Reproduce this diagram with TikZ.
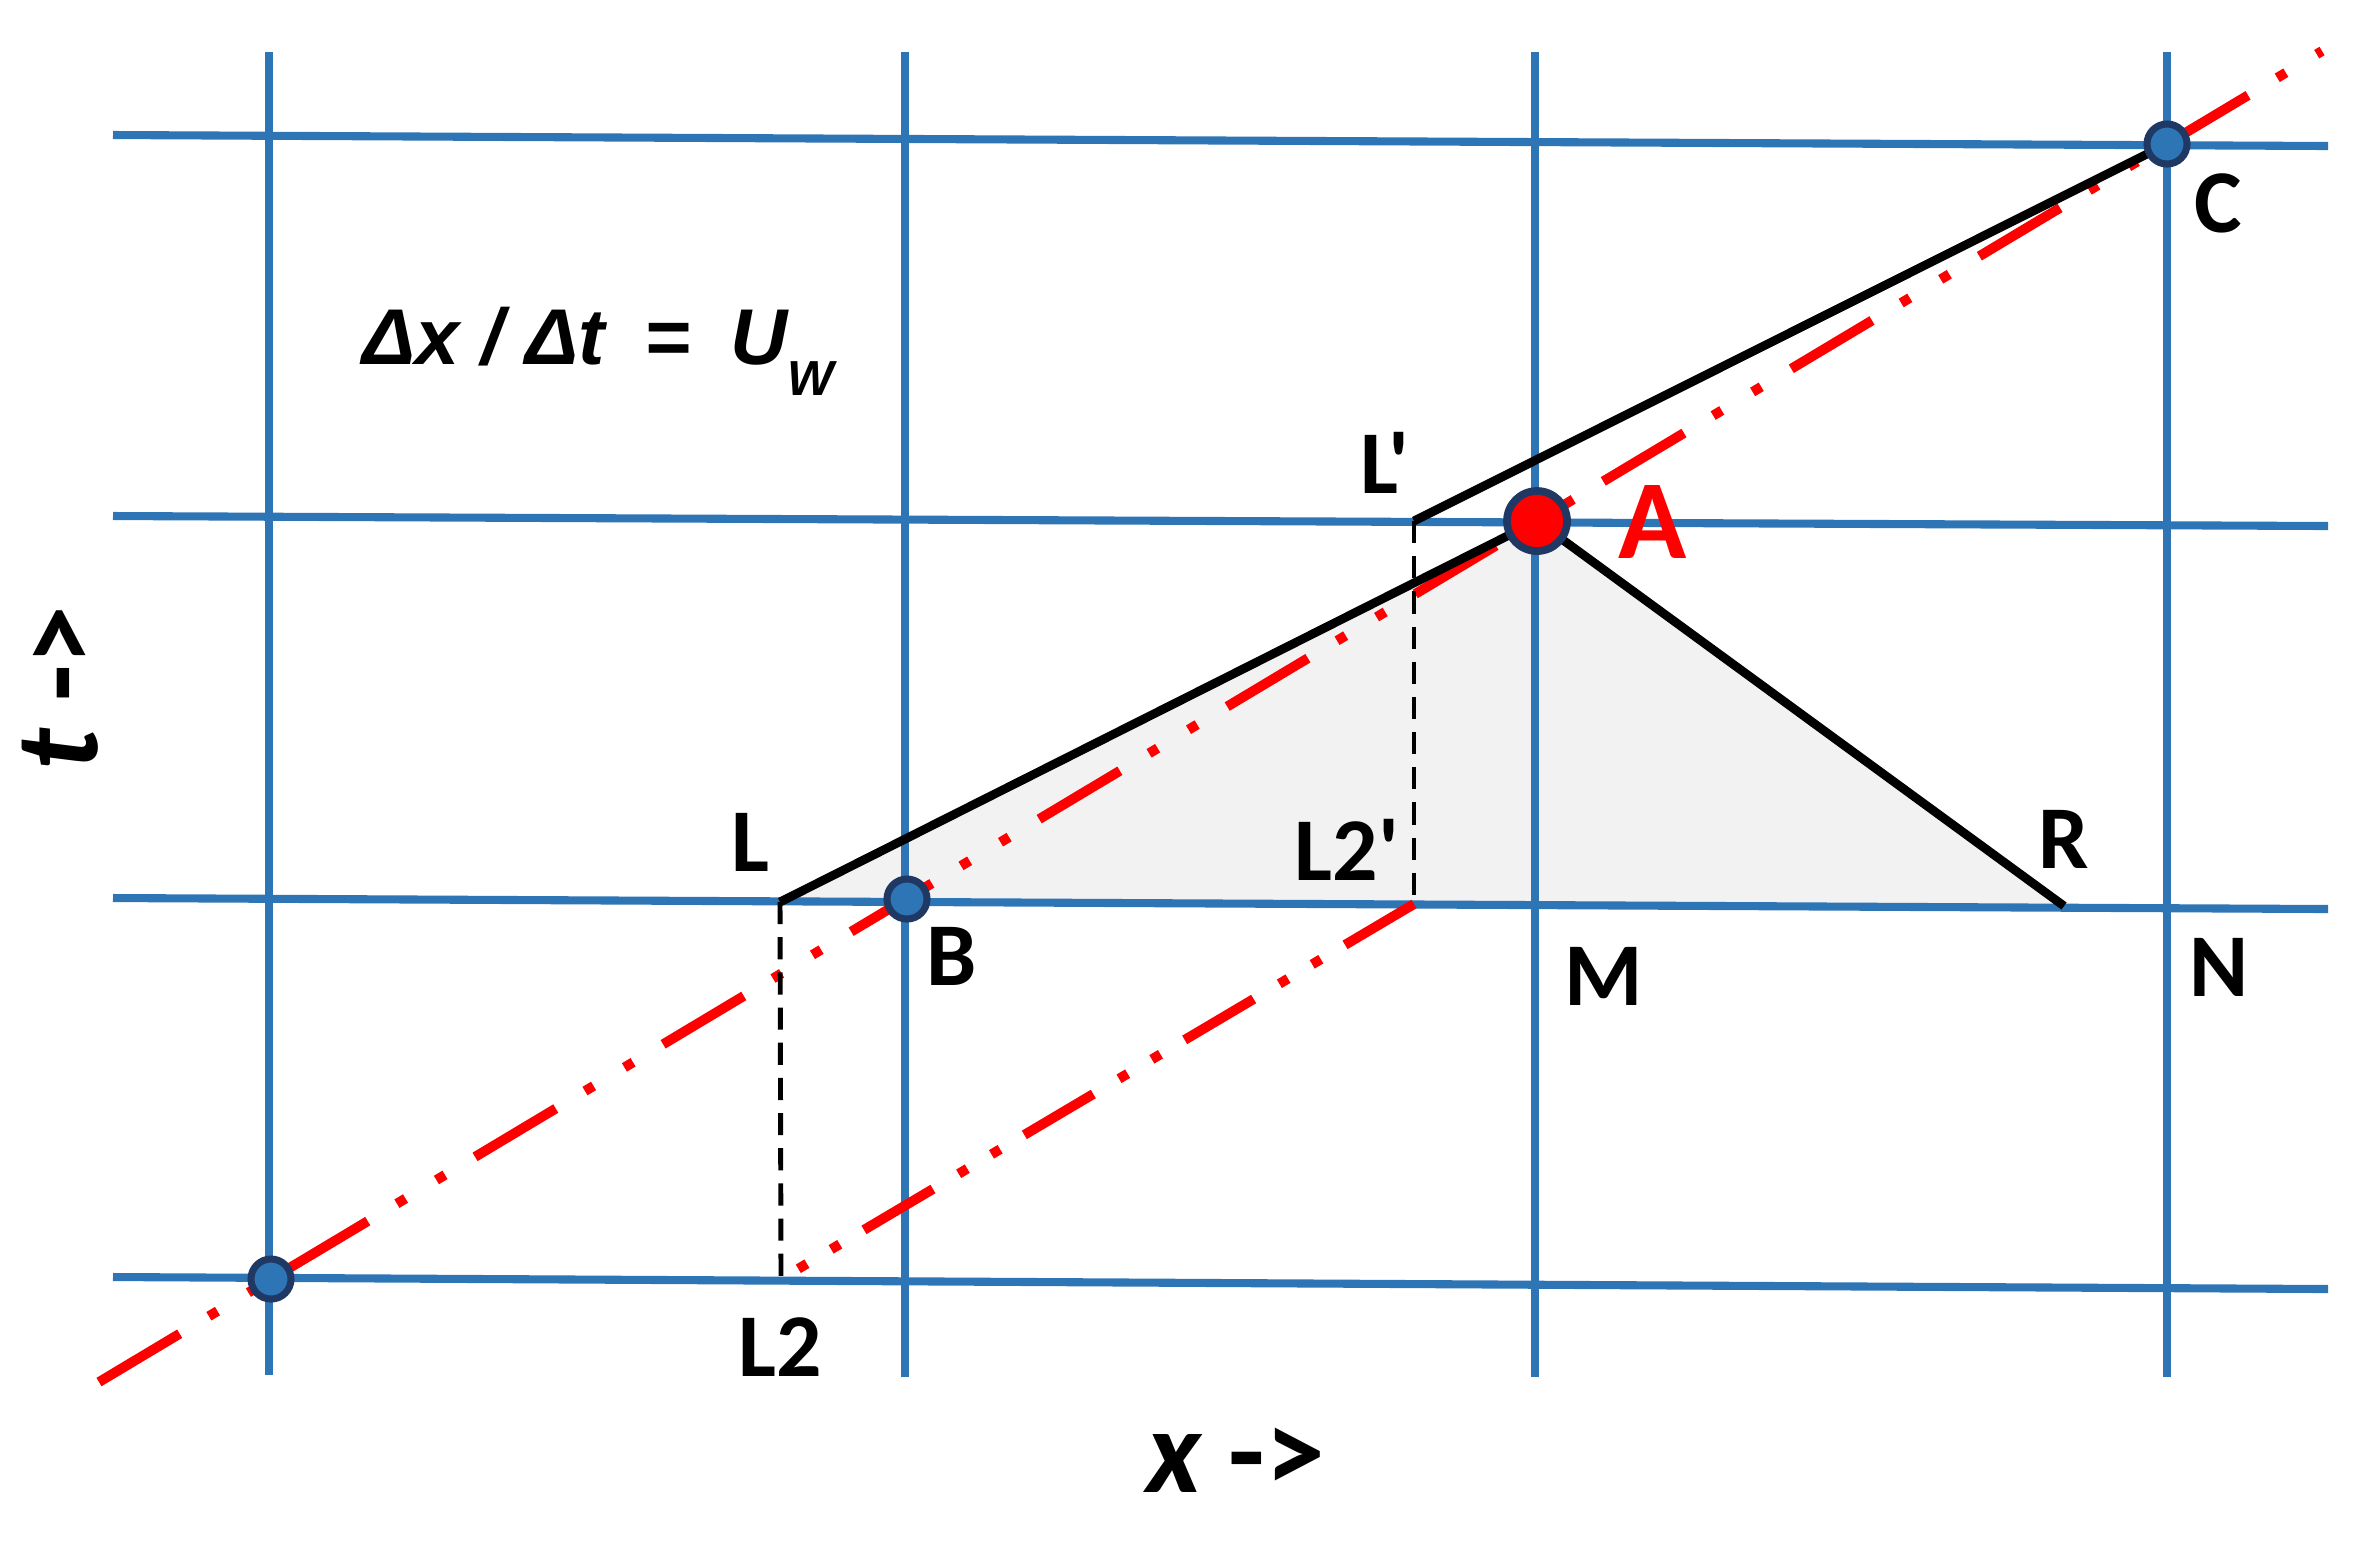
\documentclass[tikz,border=0pt]{standalone}
\usepackage{fontspec}
\setmainfont{Carlito}[Ligatures=TeXOff]
\newfontfamily\arialf{Liberation Sans}[Ligatures=TeXOff]
\definecolor{gridblue}{HTML}{2E75B6}
\definecolor{ringblue}{HTML}{203864}
\definecolor{shadegray}{HTML}{F2F2F2}
\definecolor{wred}{HTML}{FF0000}
\tikzset{
  gridline/.style={gridblue, line width=2.3pt},
  redmain/.style={wred, line width=2.8pt, line cap=butt,
    dash pattern=on 26.75pt off 9.67pt on 2.85pt off 10.24pt on 2.85pt off 9.96pt},
  redsec/.style={wred, line width=2.8pt, line cap=butt,
    dash pattern=on 22.8pt off 8pt on 2.85pt off 8pt on 2.85pt off 8.5pt},
  blackline/.style={black, line width=2.5pt},
  projline/.style={black, line width=1.4pt, dash pattern=on 6.3pt off 3.7pt},
  dot/.style={circle, draw=ringblue, fill=gridblue, line width=2pt, minimum size=0.4cm, inner sep=0pt},
  bigdot/.style={circle, draw=ringblue, fill=wred, line width=2.2pt, minimum size=0.6cm, inner sep=0pt},
  lab/.style={inner sep=0pt, font=\fontsize{25.5}{30}\selectfont\bfseries},
  labA/.style={inner sep=0pt, text=wred, font=\fontsize{32}{38}\selectfont\bfseries},
  axislab/.style={inner sep=0pt, font=\fontsize{34}{40}\selectfont\bfseries},
}
\begin{document}
\begin{tikzpicture}[x=0.01cm, y=-0.01cm]
\useasboundingbox (0,0) rectangle (2380,1544);
% key points
\coordinate (O) at (271,1279);
\coordinate (B) at (907,899);
\coordinate (A) at (1537,521);
\coordinate (C) at (2167,144);
\coordinate (L) at (780,902);
\coordinate (Lp) at (1414,521);
\coordinate (R) at (2064,906);
\coordinate (L2) at (781,1279);
\coordinate (L2p) at (1414,904);
\coordinate (r1s) at (99,1382);
\coordinate (r1e) at (2322,51);
% shaded triangle
\fill[shadegray] (L) -- (A) -- (R) -- cycle;
% grid
\draw[gridline] (113,135) -- (2328,146);
\draw[gridline] (113,516) -- (2328,526);
\draw[gridline] (113,898) -- (2328,909);
\draw[gridline] (113,1277) -- (2328,1289);
\draw[gridline] (269,52) -- (269,1375);
\draw[gridline] (905,52) -- (905,1377);
\draw[gridline] (1535,52) -- (1535,1377);
\draw[gridline] (2167,52) -- (2167,1377);
% red characteristic lines
\draw[redmain] (r1s) -- (r1e);
\draw[redsec] (L2p) -- (L2);
% projections
\draw[projline] (L) -- (L2);
\draw[projline] (Lp) -- (L2p);
% black lines
\draw[blackline] (L) -- (A);
\draw[blackline] (A) -- (R);
\draw[blackline] (Lp) -- (C);
% dots
\node[dot] (dO) at (O) {};
\node[dot] (dB) at (B) {};
\node[dot] (dC) at (C) {};
\node[bigdot] (dA) at (A) {};
% labels
\node[lab] (tL) at (750,842) {L};
\node[lab] (tB) at (952,956) {B};
\node[lab] (tL2p) at (1347,850) {L2'};
\node[lab] (tL2) at (780,1347) {L2};
\node[lab] (tLp) at (1385,463) {L'};
\node[lab] (tR) at (2064,839) {R};
\node[lab] (tM) at (1604,976) {M};
\node[lab] (tN) at (2219,967) {N};
\node[lab] (tC) at (2218,203) {C};
\node[labA] (tA) at (1653,522) {A};
\node[anchor=base west, inner sep=0pt] (formula) at (362,364)
  {\arialf\bfseries\itshape\fontsize{22.5}{27}\selectfont Δx / Δt\hspace{0.5em}=\hspace{0.5em}U\raisebox{-9pt}{\fontsize{14}{16}\selectfont W}};
\node[axislab, anchor=base] (xlab) at (1236,1492) {\itshape x\upshape\ ->};
\node[axislab, anchor=base, rotate=90] (tlab) at (97,688) {\itshape t\upshape\ ->};
\end{tikzpicture}
\end{document}
